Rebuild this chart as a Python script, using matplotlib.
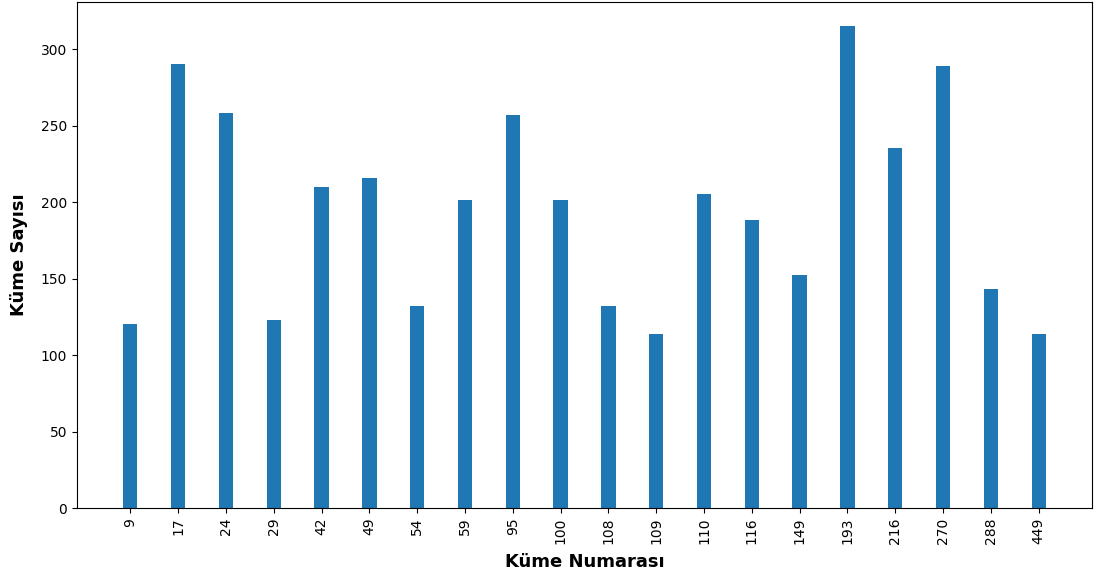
import numpy as np
import matplotlib
matplotlib.use("Agg")
import matplotlib.pyplot as plt

# Cluster ids and their sizes
cluster_ids = ['9', '17', '24', '29', '42', '49', '54', '59', '95', '100',
               '108', '109', '110', '116', '149', '193', '216', '270', '288', '449']
cluster_counts = [120, 290, 258, 123, 210, 216, 132, 201, 257, 201,
                  132, 114, 205, 188, 152, 315, 235, 289, 143, 114]

fig, ax = plt.subplots(figsize=(11.02, 5.81), dpi=100)
fig.subplots_adjust(left=77 / 1102, right=1092 / 1102, top=1 - 2 / 581, bottom=1 - 508 / 581)

x = np.arange(len(cluster_ids))
ax.bar(x, cluster_counts, width=0.3, color='#1f77b4')

ax.set_xticks(x)
ax.set_xticklabels(cluster_ids, rotation=90)
ax.set_xlabel("Küme Numarası", fontsize=13, fontweight='bold', labelpad=6)
ax.set_ylabel("Küme Sayısı", fontsize=13, fontweight='bold', labelpad=9)

fig.savefig("out.png", dpi=100)
